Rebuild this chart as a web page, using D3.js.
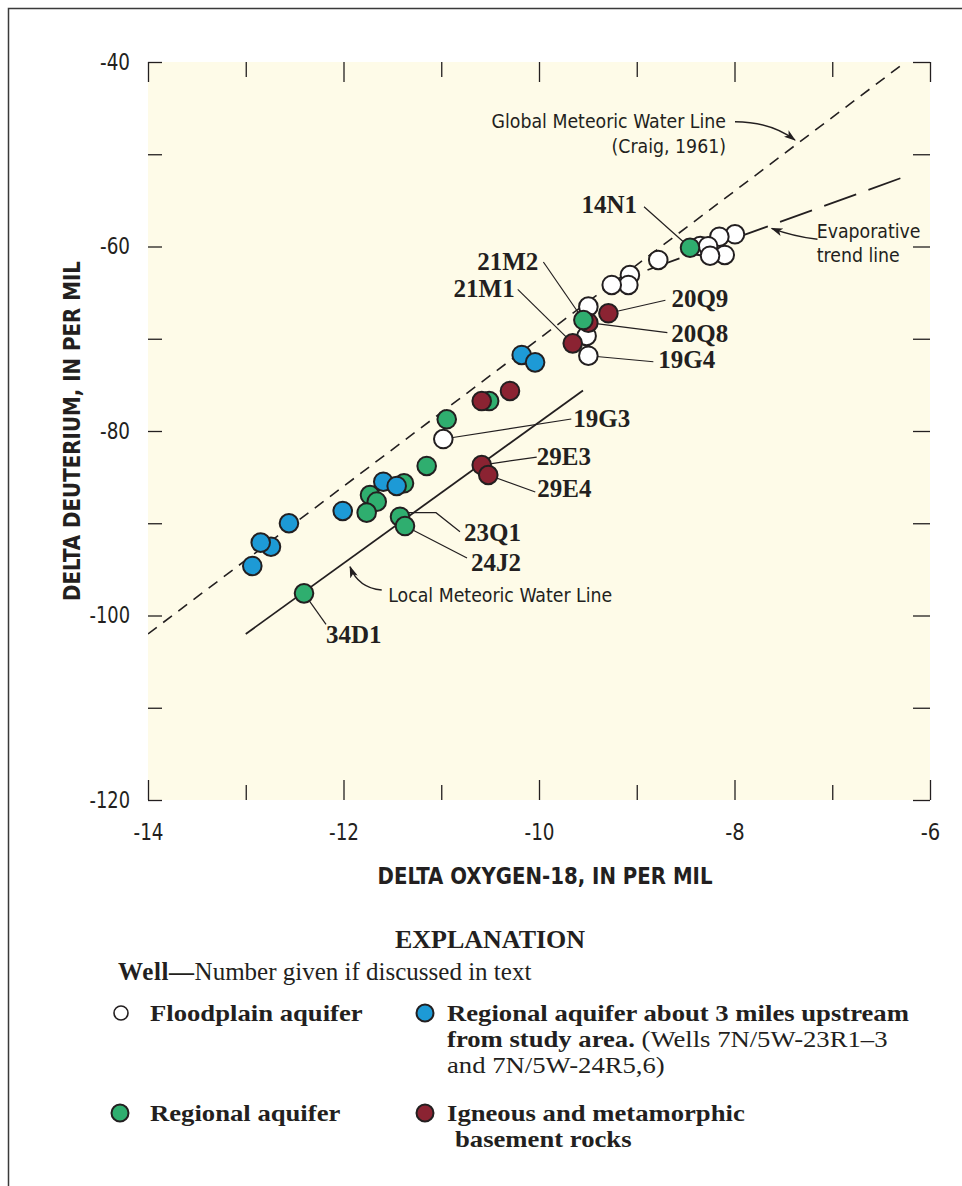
<!DOCTYPE html>
<html>
<head>
<meta charset="utf-8">
<script src="https://cdn.jsdelivr.net/npm/d3@7"></script>
<style>
  body { margin: 0; background: #fff; }
  svg { display: block; }
  .sans { font-family: 'Liberation Sans Narrow', 'Arial Narrow', 'DejaVu Sans Condensed', sans-serif; }
  .serif { font-family: 'Liberation Serif', 'Times New Roman', serif; }
</style>
</head>
<body>
<div id="chart"></div>
<script>
// ---- data: [delta O-18, delta D] per well ----
const floodplain = [
  [-7.995, -58.68], [-8.155, -58.94], [-8.35, -59.95], [-8.27, -59.97],
  [-8.10, -60.92], [-8.25, -61.0], [-8.78, -61.46], [-9.07, -63.09],
  [-9.086, -64.17], [-9.256, -64.17], [-9.495, -66.52], [-9.513, -69.7],
  [-9.495, -71.84], [-10.979, -80.87]
];
const regional = [
  [-8.455, -60.13], [-9.546, -67.97], [-10.51, -76.75], [-10.944, -78.73],
  [-11.149, -83.79], [-11.381, -85.67], [-11.729, -86.94], [-11.66, -87.66],
  [-11.763, -88.85], [-11.422, -89.29], [-11.371, -90.3], [-12.404, -97.6]
];
const upstream = [
  [-10.177, -71.76], [-10.04, -72.56], [-11.593, -85.5], [-11.456, -85.96],
  [-12.008, -88.67], [-12.558, -90.0], [-12.742, -92.54], [-12.847, -92.1],
  [-12.933, -94.63]
];
const basement = [
  [-9.495, -68.26], [-9.29, -67.24], [-9.655, -70.5], [-10.297, -75.66],
  [-10.586, -76.75], [-10.586, -83.69], [-10.519, -84.77]
];

// reference lines (end points)
const globalLine = [[-14, -102], [-6.25, -40]];
const localLine = [[-13, -102], [-9.55, -75.6]];
const evapLine = [[-8.89, -62.55], [-6.24, -52.36]];

const xTicks = d3.range(-14, -5, 1);
const yTicks = d3.range(-120, -39, 10);
const xLabels = [-14, -12, -10, -8, -6];
const yLabels = [-40, -60, -80, -100, -120];

// well numbers: which point, text offset and leader (px from the point)
const wellLabels = [
  { name: '14N1', set: regional, i: 0, dx: -53, dy: -35, anchor: 'end', leader: [[-46, -41], [0, 0]] },
  { name: '21M2', set: regional, i: 1, dx: -45, dy: -50, anchor: 'end', leader: [[-40, -58], [0, 0]] },
  { name: '21M1', set: basement, i: 2, dx: -58, dy: -46, anchor: 'end', leader: [[-55, -54], [0, 0]] },
  { name: '20Q9', set: basement, i: 1, dx: 63, dy: -6, anchor: 'start', leader: [[57, -13], [0, 0]] },
  { name: '20Q8', set: basement, i: 0, dx: 83, dy: 19, anchor: 'start', leader: [[79, 10], [0, 0]] },
  { name: '19G4', set: floodplain, i: 12, dx: 70, dy: 12, anchor: 'start', leader: [[65, 6], [0, 0]] },
  { name: '19G3', set: floodplain, i: 13, dx: 130, dy: -12, anchor: 'start', leader: [[128, -20], [0, 0]] },
  { name: '29E3', set: basement, i: 5, dx: 55, dy: 0, anchor: 'start', leader: [[55, -8], [0, 0]] },
  { name: '29E4', set: basement, i: 6, dx: 49, dy: 22, anchor: 'start', leader: [[47, 17], [0, 0]] },
  { name: '23Q1', set: regional, i: 9, dx: 64, dy: 24, anchor: 'start', leader: [[60, 15], [36, -4], [2, -4]] },
  { name: '24J2', set: regional, i: 10, dx: 66, dy: 45, anchor: 'start', leader: [[62, 32], [0, 0]] },
  { name: '34D1', set: regional, i: 11, dx: 22, dy: 50, anchor: 'start', leader: [[22, 31], [0, 0]] }
];

const INK = '#231f20';
const PAPER = '#fefbe8';
const COLORS = { floodplain: '#ffffff', upstream: '#1d9ad6', regional: '#2fae6f', basement: '#8b2332' };

const width = 962, height = 1186;
const x = d3.scaleLinear().domain([-14, -6]).range([148, 930]);
const y = d3.scaleLinear().domain([-120, -40]).range([800, 62]);

const svg = d3.select('#chart').append('svg')
  .attr('width', width)
  .attr('height', height);

// outer frame of the figure
svg.append('rect')
  .attr('x', 8.5).attr('y', 8.5)
  .attr('width', 1000).attr('height', 1300)
  .attr('fill', 'none').attr('stroke', '#3a3a3a').attr('stroke-width', 1.5);

const defs = svg.append('defs');
defs.append('marker')
  .attr('id', 'arrow')
  .attr('viewBox', '0 0 12 8')
  .attr('refX', 11).attr('refY', 4)
  .attr('markerWidth', 12).attr('markerHeight', 8)
  .attr('markerUnits', 'userSpaceOnUse')
  .attr('orient', 'auto')
  .append('path')
  .attr('d', 'M0,0 L12,4 L0,8 L3,4 Z')
  .attr('fill', INK);
defs.append('clipPath').attr('id', 'plot-clip')
  .append('rect')
  .attr('x', x(-14)).attr('y', y(-40))
  .attr('width', x(-6) - x(-14)).attr('height', y(-120) - y(-40));

// plot background
svg.append('rect')
  .attr('x', x(-14)).attr('y', y(-40))
  .attr('width', x(-6) - x(-14)).attr('height', y(-120) - y(-40))
  .attr('fill', PAPER);

// axes, ticks pointing inward
function styleAxis(g) {
  g.select('.domain').remove();
  g.selectAll('.tick line').attr('stroke', INK).attr('stroke-width', 1.3);
  g.selectAll('.tick text')
    .attr('class', 'sans')
    .attr('font-size', 23)
    .attr('fill', INK)
    .filter(function() { return this.textContent !== ''; })
    .attr('textLength', function() { return 9 + 10.5 * (this.textContent.length - 1); })
    .attr('lengthAdjust', 'spacingAndGlyphs');
}
const fmtX = d => xLabels.includes(d) ? String(d) : '';
const fmtY = d => yLabels.includes(d) ? String(d) : '';

svg.append('g')
  .attr('transform', `translate(0,${y(-120)})`)
  .call(d3.axisBottom(x).tickValues(xTicks).tickSize(-15).tickPadding(24).tickFormat(fmtX))
  .call(styleAxis)
  .selectAll('.tick line').attr('y2', d => xLabels.includes(d) ? -20 : -15);

svg.append('g')
  .attr('transform', `translate(0,${y(-40)})`)
  .call(d3.axisTop(x).tickValues(xTicks).tickSize(-15).tickFormat(''))
  .call(styleAxis)
  .selectAll('.tick line').attr('y2', d => xLabels.includes(d) ? 20 : 15);

svg.append('g')
  .attr('transform', `translate(${x(-14)},0)`)
  .call(d3.axisLeft(y).tickValues(yTicks).tickSize(-14).tickPadding(18).tickFormat(fmtY))
  .call(styleAxis);

svg.append('g')
  .attr('transform', `translate(${x(-6)},0)`)
  .call(d3.axisRight(y).tickValues(yTicks).tickSize(-17).tickFormat(''))
  .call(styleAxis);

// axis titles
svg.append('text')
  .attr('class', 'sans')
  .attr('x', 545).attr('y', 884)
  .attr('text-anchor', 'middle')
  .attr('font-size', 23).attr('font-weight', 'bold').attr('fill', INK)
  .attr('textLength', 335).attr('lengthAdjust', 'spacingAndGlyphs')
  .text('DELTA OXYGEN-18, IN PER MIL');

svg.append('text')
  .attr('class', 'sans')
  .attr('transform', 'translate(80,431) rotate(-90)')
  .attr('text-anchor', 'middle')
  .attr('font-size', 23).attr('font-weight', 'bold').attr('fill', INK)
  .attr('textLength', 340).attr('lengthAdjust', 'spacingAndGlyphs')
  .text('DELTA DEUTERIUM, IN PER MIL');

// reference lines
const plot = svg.append('g').attr('clip-path', 'url(#plot-clip)');
const line = d3.line().x(d => x(d[0])).y(d => y(d[1]));

plot.append('path').datum(globalLine)
  .attr('d', line).attr('fill', 'none')
  .attr('stroke', INK).attr('stroke-width', 1.6).attr('stroke-dasharray', '11,8');
plot.append('path').datum(localLine)
  .attr('d', line).attr('fill', 'none')
  .attr('stroke', INK).attr('stroke-width', 1.8);
plot.append('path').datum(evapLine)
  .attr('d', line).attr('fill', 'none')
  .attr('stroke', INK).attr('stroke-width', 1.8).attr('stroke-dasharray', '34,13');

// annotation texts with arrows (positions in data units)
function note(lines, at, anchor, lineGap) {
  const t = svg.append('text')
    .attr('class', 'sans')
    .attr('x', x(at[0])).attr('y', y(at[1]))
    .attr('text-anchor', anchor)
    .attr('font-size', 19.3).attr('fill', INK);
  lines.forEach((s, k) => {
    t.append('tspan')
      .attr('x', x(at[0]))
      .attr('dy', k === 0 ? 0 : lineGap)
      .text(s);
  });
}
function arrow(from, ctrl, to) {
  const p = d3.path();
  p.moveTo(x(from[0]), y(from[1]));
  p.quadraticCurveTo(x(ctrl[0]), y(ctrl[1]), x(to[0]), y(to[1]));
  svg.append('path')
    .attr('d', p.toString())
    .attr('fill', 'none').attr('stroke', INK).attr('stroke-width', 1.4)
    .attr('marker-end', 'url(#arrow)');
}

note(['Global Meteoric Water Line', '(Craig, 1961)'], [-8.087, -47.19], 'end', 25);
arrow([-7.995, -46.47], [-7.63, -46.5], [-7.381, -48.46]);

note(['Evaporative', 'trend line'], [-7.159, -59.11], 'start', 23.5);
arrow([-7.151, -59.22], [-7.4, -58.9], [-7.62, -58.03]);

note(['Local Meteoric Water Line'], [-11.542, -98.5], 'start', 0);
arrow([-11.609, -97.24], [-11.85, -97.0], [-11.933, -94.71]);

// leaders for well numbers
const labelLayer = svg.append('g');
wellLabels.forEach(l => {
  const p = l.set[l.i];
  const px = x(p[0]), py = y(p[1]);
  labelLayer.append('path')
    .attr('d', d3.line()(l.leader.map(o => [px + o[0], py + o[1]])))
    .attr('fill', 'none').attr('stroke', INK).attr('stroke-width', 1.2);
  labelLayer.append('text')
    .attr('class', 'serif')
    .attr('x', px + l.dx).attr('y', py + l.dy)
    .attr('text-anchor', l.anchor)
    .attr('font-size', 25).attr('font-weight', 'bold').attr('fill', INK)
    .text(l.name);
});

// wells
const groups = [
  { key: 'floodplain', data: floodplain },
  { key: 'regional', data: regional },
  { key: 'upstream', data: upstream },
  { key: 'basement', data: basement }
];
const pts = svg.append('g');
groups.forEach(gr => {
  pts.selectAll(null)
    .data(gr.data)
    .join('circle')
    .attr('class', 'well-' + gr.key)
    .attr('cx', d => x(d[0]))
    .attr('cy', d => y(d[1]))
    .attr('r', 9.3)
    .attr('fill', COLORS[gr.key])
    .attr('stroke', INK)
    .attr('stroke-width', 2);
});
// well 21M2 sits on top of 20Q8
pts.selectAll('circle.well-regional').filter(d => d === regional[1]).raise();

// ---- explanation ----
const leg = svg.append('g').attr('class', 'serif').attr('fill', INK);
leg.append('text')
  .attr('x', 490).attr('y', 948)
  .attr('text-anchor', 'middle')
  .attr('font-size', 26).attr('font-weight', 'bold')
  .text('EXPLANATION');

const well = leg.append('text').attr('x', 118).attr('y', 980).attr('font-size', 25);
well.append('tspan').attr('font-weight', 'bold').attr('letter-spacing', 0.6).text('Well—');
well.append('tspan').text('Number given if discussed in text');

const legendItems = [
  { key: 'floodplain', cx: 121, cy: 1013, r: 7, strokeW: 1.6 },
  { key: 'upstream', cx: 425, cy: 1013, r: 8.5, strokeW: 2 },
  { key: 'regional', cx: 120, cy: 1113, r: 8.5, strokeW: 2 },
  { key: 'basement', cx: 425, cy: 1113, r: 8.5, strokeW: 2 }
];
legendItems.forEach(it => {
  leg.append('circle')
    .attr('cx', it.cx).attr('cy', it.cy).attr('r', it.r)
    .attr('fill', COLORS[it.key]).attr('stroke', INK).attr('stroke-width', it.strokeW);
});

// condensed-looking Times: smaller size, stretched sideways
function legText(xp, yp, parts) {
  const t = leg.append('text')
    .attr('transform', `translate(${xp},${yp}) scale(1.16,1)`)
    .attr('font-size', 23);
  parts.forEach(([s, bold]) => {
    t.append('tspan').attr('font-weight', bold ? 'bold' : 'normal').text(s);
  });
}
legText(150, 1021, [['Floodplain aquifer', true]]);
legText(447, 1021, [['Regional aquifer about 3 miles upstream', true]]);
legText(447, 1047, [['from study area.', true], [' (Wells 7N/5W-23R1–3', false]]);
legText(447, 1073, [['and 7N/5W-24R5,6)', false]]);
legText(150, 1121, [['Regional aquifer', true]]);
legText(447, 1121, [['Igneous and metamorphic', true]]);
legText(455, 1147, [['basement rocks', true]]);
</script>
</body>
</html>
